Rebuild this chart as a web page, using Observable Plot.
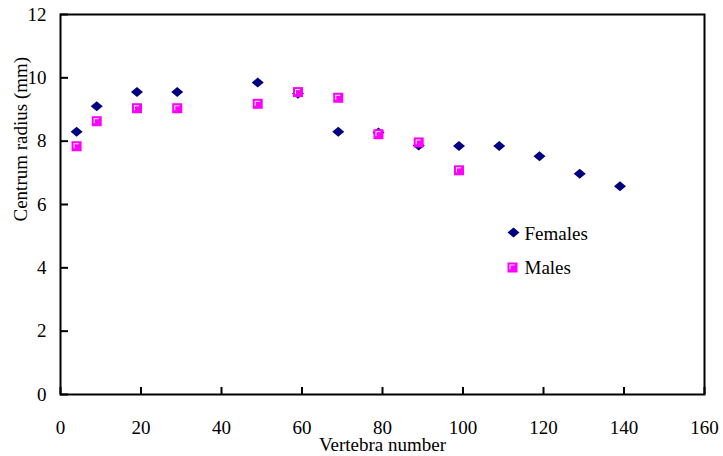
<!DOCTYPE html>
<html>
<head>
<meta charset="utf-8">
<script src="https://cdn.jsdelivr.net/npm/d3@7"></script>
<script src="https://cdn.jsdelivr.net/npm/@observablehq/plot@0.6"></script>
<style>
  html, body { margin: 0; padding: 0; background: #fff; }
  svg text { font-family: 'Liberation Serif', 'Times New Roman', serif; font-variant: normal; }
</style>
</head>
<body>
<div id="chart"></div>
<script>
const femaleVertebra = [4, 9, 19, 29, 49, 59, 69, 79, 89, 99, 109, 119, 129, 139];
const femaleRadius   = [8.3, 9.1, 9.55, 9.55, 9.85, 9.5, 8.3, 8.27, 7.86, 7.85, 7.85, 7.52, 6.97, 6.58];
const maleVertebra   = [4, 9, 19, 29, 49, 59, 69, 79, 89, 99];
const maleRadius     = [7.84, 8.63, 9.04, 9.04, 9.18, 9.55, 9.37, 8.22, 7.96, 7.08];
const xTicks = [0, 20, 40, 60, 80, 100, 120, 140, 160];
const yTicks = [0, 2, 4, 6, 8, 10, 12];
const seriesNames = ["Females", "Males"];
const xTitle = "Vertebra number";
const yTitle = "Centrum radius (mm)";

const females = femaleVertebra.map((v, i) => ({vertebra: v, radius: femaleRadius[i]}));
const males = maleVertebra.map((v, i) => ({vertebra: v, radius: maleRadius[i]}));

const NAVY = "#000080", MAGENTA = "#FF00FF";

const diamondSym = {draw(ctx, size) {
  const r = Math.sqrt(size / Math.PI), w = r * 1.2, h = r;
  ctx.moveTo(-w, 0); ctx.lineTo(0, -h); ctx.lineTo(w, 0); ctx.lineTo(0, h); ctx.closePath();
}};
const squareSym = {draw(ctx, size) {
  const r = Math.sqrt(size / Math.PI);
  ctx.rect(-r, -r, 2 * r, 2 * r);
}};

function maleMarks(data, opts) {
  return [
    Plot.dot(data, {...opts, symbol: squareSym, r: 5, fill: MAGENTA, stroke: "none"}),
    Plot.dot(data, {...opts, symbol: squareSym, r: 2.5, fill: "#fff", stroke: "none", dx: (opts.dx || 0) - 0.5, dy: (opts.dy || 0) - 0.5}),
    Plot.dot(data, {...opts, symbol: squareSym, r: 2.5, fill: MAGENTA, stroke: "none", dx: (opts.dx || 0) + 0.5, dy: (opts.dy || 0) + 0.5})
  ];
}

const font = "'Liberation Serif', 'Times New Roman', serif";

const chart = Plot.plot({
  width: 723,
  height: 456,
  marginLeft: 60,
  marginTop: 14,
  marginRight: 19,
  marginBottom: 62,
  style: {fontFamily: font, fontSize: "19px", background: "#fff", color: "#000"},
  x: {domain: [0, 160], ticks: xTicks},
  y: {domain: [0, 12], ticks: yTicks},
  marks: [
    Plot.axisX({ticks: xTicks, tickSize: -7, tickPadding: 33, strokeWidth: 2, label: null, fontSize: 19, fontFamily: font, fontVariant: "normal"}),
    Plot.axisY({ticks: yTicks, tickSize: -8, tickPadding: 22, strokeWidth: 2, label: null, fontSize: 19, fontFamily: font, fontVariant: "normal"}),
    Plot.frame({stroke: "#000", strokeWidth: 2}),
    Plot.dot(females, {x: "vertebra", y: "radius", symbol: diamondSym, r: 5, fill: NAVY, stroke: "none"}),
    ...maleMarks(males, {x: "vertebra", y: "radius"}),
    Plot.text([xTitle], {frameAnchor: "bottom", dy: 50, text: d => d, fontSize: 19, fontFamily: font, lineAnchor: "middle"}),
    Plot.text([yTitle], {frameAnchor: "left", rotate: -90, dx: -40, dy: 17, text: d => d, fontSize: 19, fontFamily: font, lineAnchor: "middle"}),
    // legend
    Plot.dot([seriesNames[0]], {frameAnchor: "top-left", dx: 453, dy: 218, symbol: diamondSym, r: 5, fill: NAVY, stroke: "none"}),
    ...maleMarks([seriesNames[1]], {frameAnchor: "top-left", dx: 452, dy: 253}),
    Plot.text([seriesNames[0]], {frameAnchor: "top-left", dx: 464, dy: 219, text: d => d, textAnchor: "start", lineAnchor: "middle", fontSize: 19, fontFamily: font}),
    Plot.text([seriesNames[1]], {frameAnchor: "top-left", dx: 464, dy: 253, text: d => d, textAnchor: "start", lineAnchor: "middle", fontSize: 19, fontFamily: font})
  ]
});
document.getElementById("chart").appendChild(chart);
</script>
</body>
</html>
